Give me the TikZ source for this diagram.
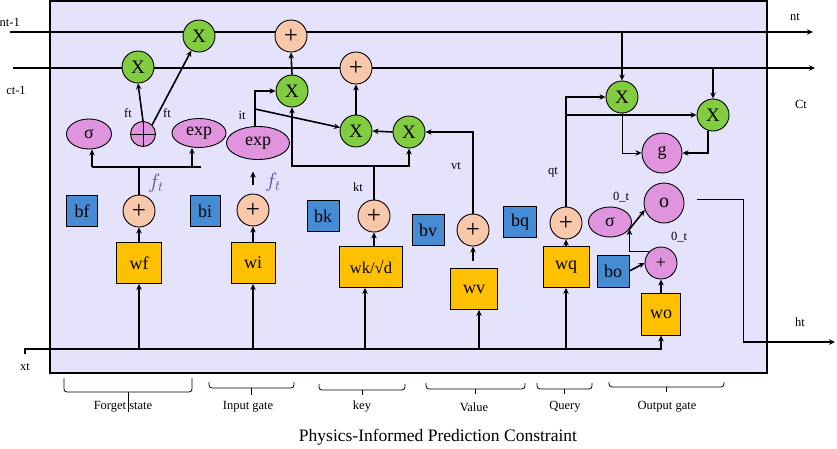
\documentclass[tikz,border=0pt]{standalone}
\usepackage{fontspec}
\setmainfont{Liberation Serif}
\usetikzlibrary{arrows.meta,shapes.geometric,calc}
\definecolor{bgl}{RGB}{229,226,251}
\definecolor{xg}{RGB}{130,204,64}
\definecolor{pch}{RGB}{249,200,170}
\definecolor{pnk}{RGB}{223,148,221}
\definecolor{bbl}{RGB}{70,140,212}
\definecolor{gld}{RGB}{255,192,0}
\definecolor{ftc}{RGB}{82,82,168}
\newcommand{\fsz}[1]{\fontsize{#1}{#1}\selectfont}
\begin{document}
\begin{tikzpicture}[x=1pt,y=-1pt,
  ln/.style={line width=1.6pt},
  ar/.style={line width=1.6pt,-{Stealth[length=6pt,width=5.5pt]}},
  tar/.style={line width=0.8pt,-{Stealth[length=6pt,width=5.5pt]}},
  mulnode/.style={circle,draw,line width=0.9pt,fill=xg,minimum size=32pt,inner sep=0pt,font=\fsz{19}},
  addnode/.style={circle,draw,line width=0.9pt,fill=pch,minimum size=32pt,inner sep=0pt,font=\fsz{25}},
  pinkell/.style={ellipse,draw,line width=0.9pt,fill=pnk,inner sep=0pt,font=\fsz{18}},
  pinkcirc/.style={circle,draw,line width=0.9pt,fill=pnk,inner sep=0pt,font=\fsz{18}},
  biasbox/.style={rectangle,draw,line width=0.9pt,fill=bbl,minimum width=31pt,minimum height=31pt,inner sep=0pt,font=\fsz{18}},
  wbox/.style={rectangle,draw,line width=0.9pt,fill=gld,minimum height=41pt,inner sep=0pt,font=\fsz{18}},
  lab/.style={font=\fsz{12.5},inner sep=0pt},
  ftlab/.style={font=\fsz{21},text=ftc,inner sep=0pt},
  glab/.style={font=\fsz{12.5},inner sep=0pt},
  brc/.style={line width=0.8pt,rounded corners=3pt},
]
\useasboundingbox (0,0) rectangle (837,448);
% main box
\draw[fill=bgl,line width=1.4pt] (50,1) rectangle (767,373);

% state lines
\coordinate (ntin) at (10,32);
\coordinate (ntout) at (813,32);
\coordinate (ctin) at (13,68);
\coordinate (ctout) at (815,68);
\coordinate (xtin) at (25,349);
\coordinate (xttick) at (25,354);
\draw[ar] (ntin) -- (ntout);
\draw[ar] (ctin) -- (ctout);

% outer labels
\node[lab,anchor=east] (lnt1) at (20,22) {nt-1};
\node[lab] (lct1) at (16,90) {ct-1};
\node[lab] (lnt) at (795,17) {nt};
\node[lab] (lCt) at (801,104) {Ct};
\node[lab] (lht) at (800,322) {ht};
\node[lab] (lxt) at (25,367) {xt};

% ---------- forget state ----------
\node[mulnode] (xf) at (138,67) {X};
\node[mulnode] (xn) at (199,36) {X};
\node[pinkcirc,minimum size=25pt] (fp) at (143,134) {};
\draw[line width=0.9pt] (fp.north) -- (fp.south) (fp.west) -- (fp.east);
\node[pinkell,minimum width=45pt,minimum height=30pt] (sf) at (89,134) {σ};
\node[pinkell,minimum width=54pt,minimum height=29pt] (ef) at (199,133) {exp};
\node[addnode] (pf) at (139,211) {+};
\node[biasbox] (bf) at (82,211) {bf};
\node[wbox,minimum width=45pt] (wf) at (139,263) {wf};
\node[lab] (lft1) at (128,113) {ft};
\node[lab] (lft2) at (167,113) {ft};
\node[ftlab] (lftf) at (156,183) {$f_t$};

\draw[ar] (wf.south |- xtin) -- (wf.south);
\draw[ar] (wf.north) -- (pf.south);
\coordinate (fj) at (139,167);
\coordinate (fjl) at (92,167);
\coordinate (fjr) at (192,167);
\draw[ln] (pf.north) -- (fj);
\draw[ln] (fjl) -- (201,167);
\draw[ar] (fjl) -- (fjl |- sf.south);
\draw[ar] (fjr) -- (fjr |- ef.south);
\draw[ar] (fp.north) -- (xf.south);
\draw[ar] (fp.north east) -- (xn);

% ---------- input gate ----------
\node[biasbox,minimum width=30pt] (bi) at (205,211) {bi};
\node[addnode] (pi) at (253,210) {+};
\node[wbox,minimum width=44pt] (wi) at (253,263) {wi};
\node[pinkell,minimum width=63pt,minimum height=33pt] (ei) at (258,143) {exp};
\node[lab] (lit) at (242,115) {it};
\node[ftlab] (lfti) at (273,182) {$f_t$};
\node[mulnode] (xi1) at (292,91) {X};
\node[addnode] (pn) at (291,36) {+};
\node[mulnode] (xi2) at (356,131) {X};
\node[addnode] (pc) at (356,68) {+};
\node[mulnode] (xk) at (409,132) {X};

\draw[ar] (wi.south |- xtin) -- (wi.south);
\draw[ar] (wi.north) -- (pi.south);
\draw[ar] ([yshift=9pt]pi.north) -- ++(0,-13);
\draw[ar] ([xshift=-3pt]ei.north) |- (xi1.west);
\coordinate (itj) at (255,109);
\draw[ar] (itj) -- (xi2);
\draw[ar] (xi1.north) -- (pn.south);
\draw[ar] (xi2.north) -- (pc.south);
\draw[ar] (xk.west) -- (xi2.east);

% ---------- key ----------
\node[biasbox,minimum width=32pt] (bk) at (323,216) {bk};
\node[addnode] (pk) at (374,216) {+};
\node[wbox,minimum width=63pt,font=\fsz{16.5}] (wk) at (371,267) {wk/√d};
\node[lab] (lkt) at (358,187) {kt};
\path ($(wk.south)+(-6,0)$) coordinate (wkin);
\draw[ar] (wkin |- xtin) -- (wkin);
\draw[ar] (wk.north -| pk.south) -- (pk.south);
\coordinate (kj) at (374,166);
\draw[ln] (pk.north) -- (kj);
\draw[ar] (kj) -| (xi1.south);
\draw[ar] (kj) -| (xk.south);

% ---------- value ----------
\node[biasbox,minimum width=32pt] (bv) at (428,230) {bv};
\node[addnode] (pv) at (473,230) {+};
\node[wbox,minimum width=47pt] (wv) at (474,289) {wv};
\node[lab] (lvt) at (456,166) {vt};
\path ($(wv.south)+(5,0)$) coordinate (wvin);
\draw[ar] (wvin |- xtin) -- (wvin);
\draw[ar] ([yshift=7pt]wv.north -| pv.south) -- (pv.south);
\draw[ar] (pv.north) |- (xk.east);

% ---------- query ----------
\node[biasbox,minimum width=33pt] (bq) at (520,222) {bq};
\node[addnode] (pq) at (566,223) {+};
\node[wbox,minimum width=46pt] (wq) at (566,267) {wq};
\node[lab] (lqt) at (553,172) {qt};
\draw[ar] (wq.south |- xtin) -- (wq.south);
\draw[ar] (wq.north) -- (pq.south);

% ---------- output gate ----------
\node[mulnode] (xo1) at (622,97) {X};
\node[mulnode] (xo2) at (713,115) {X};
\node[pinkcirc,minimum size=40pt] (g) at (662,153) {g};
\node[pinkcirc,minimum size=40pt,font=\fsz{20}] (oc) at (664,203) {o};
\node[pinkell,minimum width=43pt,minimum height=30pt] (so) at (610,222) {σ};
\node[pinkcirc,minimum size=32pt,font=\fsz{18}] (po) at (661,263) {+};
\node[biasbox,minimum width=32pt,minimum height=32pt] (bo) at (613,271) {bo};
\node[wbox,minimum width=39pt,minimum height=42pt] (wo) at (661,314) {wo};
\node[lab] (lot1) at (621,197) {0\_t};
\node[lab] (lot2) at (679,237) {0\_t};

\draw[ar] (pq.north) |- (xo1.west);
\draw[ar] (pq.north |- xo2.west) -- (xo2.west);
\draw[ar] (xo1.north |- ntin) -- (xo1.north);
\draw[ar] (xo2.north |- ctin) -- (xo2.north);
\draw[tar] (xo1.south) |- (g.west);
\draw[ar] ([xshift=-5pt]xo2.south) |- (g.east);
\draw[ar] (bo.east) -- (po.west);
\draw[ar] (wo.north) -- (po.south);
\draw[ar] (po.north west) -| (so.-20);
\draw[ar] (so.-20) -- (oc.200);
\draw[ar] (xttick) -- (xtin) -| (wo.south);
\coordinate (hs) at (697,199);
\coordinate (hc) at (743,342);
\coordinate (hout) at (835,342);
\draw[line width=0.8pt] (hs) -| (hc);
\draw[ar] (hc) -- (hout);

% ---------- braces ----------
\draw[brc] (64,378) -- (64,392) -- (192,392) -- (192,378);
\draw[line width=0.8pt] (128,392) -- (128,412);
\node[glab] (gfs) at (123,407) {Forget state};
\draw[brc] (209,382) -- (209,388) -- (294,388) -- (294,382);
\draw[line width=0.8pt] (251.5,388) -- (251.5,395);
\node[glab] (gig) at (248,407) {Input gate};
\draw[brc] (319,384) -- (319,390) -- (405,390) -- (405,384);
\draw[line width=0.8pt] (362,390) -- (362,395);
\node[glab] (gkey) at (362,407) {key};
\draw[brc] (426,383) -- (426,389) -- (525,389) -- (525,383);
\draw[line width=0.8pt] (475.5,389) -- (475.5,394);
\node[glab] (gval) at (474,407) {Value};
\draw[brc] (537,383) -- (537,389) -- (592,389) -- (592,383);
\draw[line width=0.8pt] (564.5,389) -- (564.5,394);
\node[glab] (gq) at (565,407) {Query};
\draw[brc] (609,382) -- (609,387) -- (724,387) -- (724,382);
\draw[line width=0.8pt] (666.5,387) -- (666.5,392);
\node[glab] (gog) at (667,407) {Output gate};

\node[font=\fsz{17.5},inner sep=0pt] (title) at (438,437) {Physics-Informed Prediction Constraint};
\end{tikzpicture}
\end{document}
